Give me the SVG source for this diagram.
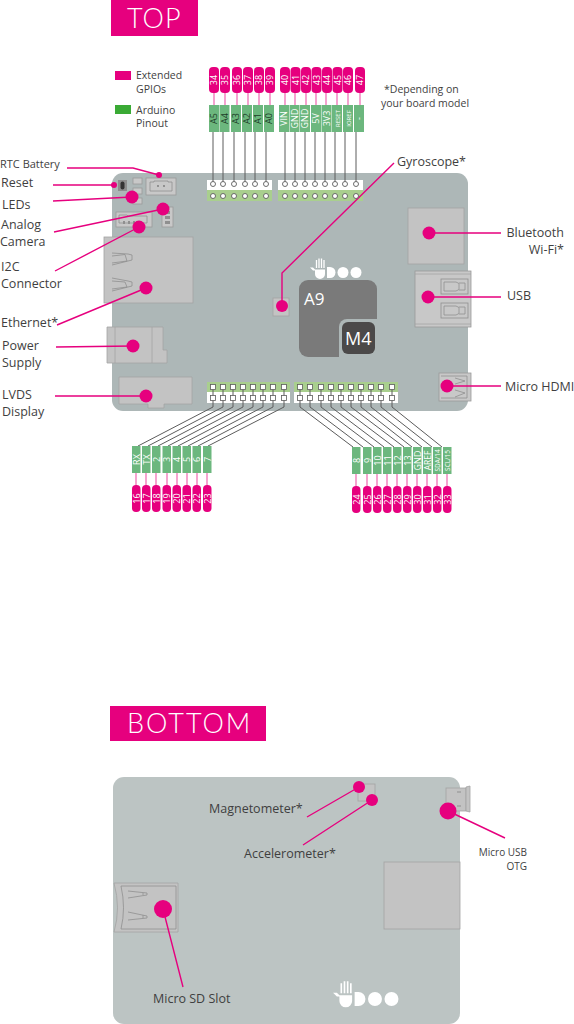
<svg xmlns="http://www.w3.org/2000/svg" width="574" height="1024" viewBox="0 0 574 1024">
<style>
text{font-family:"Open Sans","Noto Sans","Liberation Sans",sans-serif;fill:#3f3f3f}
.l{font-size:12.5px}
.s{font-size:10.5px}
.e{text-anchor:end}
.title{font-family:Lato,"Open Sans",sans-serif;font-weight:300;font-size:27px;fill:#fff}
.pin{font-size:9px;fill:#fff;text-anchor:middle}
.pd{font-size:9px;fill:#1d3d28;text-anchor:middle}
.pink{fill:#e6007e}
.g{fill:#6cb77e}
.pill{fill:#e6007e}
.comp{fill:#c3c3c3;stroke:#a3a3a3;stroke-width:.8}
.comp2{fill:#c8c8c8;stroke:#9a9a9a;stroke-width:.8}
.ln{fill:none;stroke:#e6007e;stroke-width:1.4}
.pl{stroke:#ee66b0;stroke-width:1.2}
.gl{fill:none;stroke:#5c5c5c;stroke-width:1}
.sq{fill:#fff;stroke:#5c5c5c;stroke-width:.8}
.cir{fill:#fff;stroke:#5c5c5c;stroke-width:.9}
.ic{fill:none;stroke:#8f8f8f;stroke-width:.8}
</style>
<defs>
<g id="logo"><path d="M-22,-5h3l2,2h10v4.500a5,5 0 0 1-10,0v-3.500h-2z" fill="#fff"/><path d="M-15.500,-4.500v-8M-13,-4.500v-9.500M-10.500,-4.500v-9.500M-8,-4.500v-8" stroke="#fff" stroke-width="1.300" fill="none"/><path d="M-5,-5.500h3a5.500,5.500 0 0 1 0,11h-3z" fill="#fff"/><circle cx="11" cy="0" r="5.500" fill="#fff"/><circle cx="24" cy="0" r="5.500" fill="#fff"/></g>
</defs>

<g id="top-title"><rect x="111" y="0" width="87" height="36" class="pink"/><text x="127" y="28" class="title" letter-spacing="1">TOP</text></g>

<g id="legend">
<rect x="115" y="71" width="16" height="9" class="pink"/><rect x="115" y="105" width="16" height="9" fill="#3aaa35"/>
<text x="136" y="79" class="s">Extended</text><text x="136" y="93" class="s">GPIOs</text>
<text x="136" y="114" class="s">Arduino</text><text x="136" y="127" class="s">Pinout</text>
<text x="384" y="93" class="s">*Depending on</text><text x="381" y="107" class="s">your board model</text>
</g>

<g id="board-top">
<rect x="112" y="173" width="356" height="238" rx="11" fill="#adb7b7"/>
<rect x="207" y="180" width="65" height="10" fill="#fff"/><rect x="207" y="190" width="65" height="11" fill="#a9cf8e"/>
<rect x="278" y="180" width="85" height="10" fill="#fff"/><rect x="278" y="190" width="85" height="11" fill="#a9cf8e"/>
<rect x="207" y="382" width="83" height="10" fill="#a9cf8e"/><rect x="207" y="392" width="83" height="11" fill="#fff"/>
<rect x="294" y="382" width="104" height="10" fill="#a9cf8e"/><rect x="294" y="392" width="104" height="11" fill="#fff"/>
</g>

<g id="rtc-connector"><rect x="146" y="178" width="30" height="17" class="comp2"/><path d="M150,182h4v-1h14v1h4v9h-22z" class="ic"/><circle cx="158" cy="186" r=".9" fill="#777"/><circle cx="164" cy="186" r=".9" fill="#777"/></g>
<g id="reset-button"><rect x="118" y="180" width="9" height="11" fill="#8d8d8d"/><rect x="120.500" y="181.500" width="4" height="8" rx="2" fill="#333"/></g>
<g id="led-boxes"><rect x="133" y="178" width="9" height="6" class="comp2"/><rect x="133" y="188" width="9" height="6" class="comp2"/><rect x="133" y="198" width="9" height="6" class="comp2"/></g>
<g id="camera-connector"><rect x="116" y="212" width="36" height="15" class="comp2"/><path d="M119,215h8l1,1h19v7h-28z" class="ic"/><rect x="123" y="221" width="2" height="3" fill="#8f8f8f"/><rect x="128" y="221" width="2" height="3" fill="#8f8f8f"/><rect x="133" y="221" width="2" height="3" fill="#8f8f8f"/></g>
<g id="i2c-connector"><rect x="162" y="207" width="11" height="20" class="comp2"/><rect x="165" y="211" width="5" height="3" fill="#8f8f8f"/><rect x="165" y="216" width="5" height="3" fill="#8f8f8f"/><rect x="165" y="221" width="5" height="3" fill="#8f8f8f"/></g>
<g id="ethernet"><rect x="104" y="237" width="89" height="66" class="comp"/><path d="M112,253l16,1l4,1v5l-4,1l-16,4M112,256l13,-1.500l2,6.500l-15,2M112,278l16,3l4,1v4l-4,1l-16,4M112,281l13,1l2,5l-15,2" class="ic"/></g>
<g id="power-supply"><path d="M107,327h56v23h4v13h-60z" class="comp"/><path d="M115,327v36M152,327v36" stroke="#a3a3a3" stroke-width=".8"/></g>
<g id="lvds-display"><path d="M119,377h73v27h-28v4h-16v-4h-29z" class="comp"/></g>
<g id="bluetooth-wifi"><rect x="408" y="208" width="56" height="56" class="comp"/></g>
<g id="usb"><rect x="415" y="271" width="56" height="56" class="comp2"/><path d="M415,274h56M415,324h56" stroke="#a3a3a3" stroke-width=".8"/><rect x="441" y="279" width="27" height="15" class="ic"/><rect x="441" y="303" width="27" height="15" class="ic"/><path d="M444,282h12l3,1.500v6l-3,1.500h-12zM444,306h12l3,1.500v6l-3,1.500h-12zM459,283h6v7h-6M459,307h6v7h-6" class="ic"/></g>
<g id="micro-hdmi"><rect x="439" y="373" width="32" height="28" class="comp2"/><path d="M441,376h26v22h-26" class="ic"/><path d="M455,378l10,3l-10,3M455,390l10,3l-10,4" class="ic"/></g>
<g id="gyroscope-chip"><rect x="273" y="298" width="16" height="18" class="comp"/></g>
<g id="cpu">
<rect x="299" y="280" width="78" height="77" rx="9" fill="#7a7a7a"/>
<path d="M347,319h30v38h-38v-30a8,8 0 0 1 8,-8z" fill="#adb7b7"/>
<rect x="342" y="322" width="33" height="32" rx="6" fill="#4b4949"/>
<text x="304" y="305" font-size="17" style="fill:#fff">A9</text>
<text x="345" y="345" font-size="18" style="fill:#fff">M4</text>
</g>
<use id="logo-top" href="#logo" transform="translate(332,272.500)"/>

<g id="board-bottom"><rect x="113" y="777" width="347" height="247" rx="11" fill="#bcc4c3"/></g>
<g id="bottom-sensor"><rect x="358" y="784" width="17" height="17" class="comp"/></g>
<g id="micro-usb-otg"><rect x="446" y="788" width="20" height="23" class="comp"/><path d="M466,787l4,-1v26l-4,-1z" class="comp"/><path d="M457,792h4M457,806h4" stroke="#8f8f8f"/></g>
<g id="bottom-module"><rect x="384" y="862" width="76" height="67" class="comp"/></g>
<g id="micro-sd">
<path d="M114,883h64v49h-64q7,-24 0,-49z" class="comp"/>
<path d="M121,886h55v43h-55q5,-21 0,-43z" class="ic"/>
<path d="M128,891l19,2v2l-19,3M128,912l19,4v2l-19,2M143,893v2M143,915v3" class="ic"/>
</g>
<use id="logo-bottom" href="#logo" transform="translate(361,999) scale(1.270)"/>

<g id="connectors">
<path class="ln" d="M67,168H133L159,175M53,185H114M53,201L132,197M54,232L163,209M55,271L139,227M57,325L146,288M56,347L133,346M55,396H146M394,163L282,273V306M429,233H501M428,297H501M447,386H501M307,817L359,787M303,845L372,800M183,987L163,909M505,838L448,811"/>
<path class="gl" d="M213,132V184M223,132V184M234,132V184M245,132V184M255,132V184M266,132V184M285,132V184M295,132V184M305,132V184M315,132V184M325,132V184M335,132V184M345,132V184M356,132V184"/>
<path class="gl" d="M213,387V407L138,446M223,387V407L148,446M233,387V407L158,446M243,387V407L168,446M253,387V407L178,446M263,387V407L188,446M273,387V407L198,446M284,387V407L208,446"/>
<path class="gl" d="M300,387V407L353,447M310,387V407L363,447M321,387V407L374,447M331,387V407L384,447M341,387V407L394,447M351,387V407L404,447M361,387V407L412,447M371,387V407L422,447M381,387V407L432,447M392,387V407L442,447"/>
<path class="pl" d="M214,93V105M225,93V105M237,93V105M248,93V105M259,93V105M270,93V105M285,93V105M295,93V105M306,93V105M316,93V105M326,93V105M337,93V105M348,93V105M360,93V105M136,473V485M146,473V485M156,473V485M167,473V485M177,473V485M187,473V485M197,473V485M207,473V485M356,474V486M367,474V486M377,474V486M387,474V486M397,474V486M407,474V486M417,474V486M427,474V486M437,474V486M447,474V486"/>
</g>

<g id="pin-dots">
<g class="cir-row">
<circle class="cir" cx="213" cy="184" r="2.500"/><circle class="cir" cx="223" cy="184" r="2.500"/><circle class="cir" cx="234" cy="184" r="2.500"/><circle class="cir" cx="245" cy="184" r="2.500"/><circle class="cir" cx="255" cy="184" r="2.500"/><circle class="cir" cx="266" cy="184" r="2.500"/>
<circle class="cir" cx="285" cy="184" r="2.500"/><circle class="cir" cx="295" cy="184" r="2.500"/><circle class="cir" cx="305" cy="184" r="2.500"/><circle class="cir" cx="315" cy="184" r="2.500"/><circle class="cir" cx="325" cy="184" r="2.500"/><circle class="cir" cx="335" cy="184" r="2.500"/><circle class="cir" cx="345" cy="184" r="2.500"/><circle class="cir" cx="356" cy="184" r="2.500"/>
<circle class="cir" cx="213" cy="196" r="2.500"/><circle class="cir" cx="223" cy="196" r="2.500"/><circle class="cir" cx="234" cy="196" r="2.500"/><circle class="cir" cx="245" cy="196" r="2.500"/><circle class="cir" cx="255" cy="196" r="2.500"/><circle class="cir" cx="266" cy="196" r="2.500"/>
<circle class="cir" cx="285" cy="196" r="2.500"/><circle class="cir" cx="295" cy="196" r="2.500"/><circle class="cir" cx="305" cy="196" r="2.500"/><circle class="cir" cx="315" cy="196" r="2.500"/><circle class="cir" cx="325" cy="196" r="2.500"/><circle class="cir" cx="335" cy="196" r="2.500"/><circle class="cir" cx="345" cy="196" r="2.500"/><circle class="cir" cx="356" cy="196" r="2.500"/>
</g>
<g>
<rect class="sq" x="210.500" y="384.500" width="5" height="5"/><rect class="sq" x="220.500" y="384.500" width="5" height="5"/><rect class="sq" x="230.500" y="384.500" width="5" height="5"/><rect class="sq" x="240.500" y="384.500" width="5" height="5"/><rect class="sq" x="250.500" y="384.500" width="5" height="5"/><rect class="sq" x="260.500" y="384.500" width="5" height="5"/><rect class="sq" x="270.500" y="384.500" width="5" height="5"/><rect class="sq" x="281.500" y="384.500" width="5" height="5"/>
<rect class="sq" x="210.500" y="395.500" width="5" height="5"/><rect class="sq" x="220.500" y="395.500" width="5" height="5"/><rect class="sq" x="230.500" y="395.500" width="5" height="5"/><rect class="sq" x="240.500" y="395.500" width="5" height="5"/><rect class="sq" x="250.500" y="395.500" width="5" height="5"/><rect class="sq" x="260.500" y="395.500" width="5" height="5"/><rect class="sq" x="270.500" y="395.500" width="5" height="5"/><rect class="sq" x="281.500" y="395.500" width="5" height="5"/>
<rect class="sq" x="297.500" y="384.500" width="5" height="5"/><rect class="sq" x="307.500" y="384.500" width="5" height="5"/><rect class="sq" x="318.500" y="384.500" width="5" height="5"/><rect class="sq" x="328.500" y="384.500" width="5" height="5"/><rect class="sq" x="338.500" y="384.500" width="5" height="5"/><rect class="sq" x="348.500" y="384.500" width="5" height="5"/><rect class="sq" x="358.500" y="384.500" width="5" height="5"/><rect class="sq" x="368.500" y="384.500" width="5" height="5"/><rect class="sq" x="378.500" y="384.500" width="5" height="5"/><rect class="sq" x="389.500" y="384.500" width="5" height="5"/>
<rect class="sq" x="297.500" y="395.500" width="5" height="5"/><rect class="sq" x="307.500" y="395.500" width="5" height="5"/><rect class="sq" x="318.500" y="395.500" width="5" height="5"/><rect class="sq" x="328.500" y="395.500" width="5" height="5"/><rect class="sq" x="338.500" y="395.500" width="5" height="5"/><rect class="sq" x="348.500" y="395.500" width="5" height="5"/><rect class="sq" x="358.500" y="395.500" width="5" height="5"/><rect class="sq" x="368.500" y="395.500" width="5" height="5"/><rect class="sq" x="378.500" y="395.500" width="5" height="5"/><rect class="sq" x="389.500" y="395.500" width="5" height="5"/>
</g>
</g>

<g id="callout-dots" class="pink">
<circle cx="159" cy="175" r="3"/><circle cx="114" cy="185" r="3"/><circle cx="132" cy="197" r="6.500"/><circle cx="163" cy="209" r="6.500"/><circle cx="139" cy="227" r="6.500"/><circle cx="146" cy="288" r="6.500"/><circle cx="133" cy="346" r="6.500"/><circle cx="146" cy="396" r="6.500"/><circle cx="429" cy="233" r="6.500"/><circle cx="428" cy="297" r="6.500"/><circle cx="447" cy="386" r="6.500"/><circle cx="282" cy="306" r="6"/>
<circle cx="359" cy="787" r="6"/><circle cx="372" cy="800" r="6"/><circle cx="163" cy="909" r="9"/><circle cx="448" cy="811" r="8.500"/>
</g>

<g id="callout-labels">
<text x="0" y="168" font-size="11">RTC Battery</text>
<text x="1" y="187" class="l">Reset</text>
<text x="2" y="209" class="l">LEDs</text>
<text x="1" y="229" class="l">Analog</text><text x="0" y="246" class="l">Camera</text>
<text x="1" y="271" class="l">I2C</text><text x="1" y="288" class="l">Connector</text>
<text x="1" y="327" class="l">Ethernet*</text>
<text x="2" y="350" class="l">Power</text><text x="2" y="367" class="l">Supply</text>
<text x="2" y="399" class="l">LVDS</text><text x="2" y="416" class="l">Display</text>
<text x="397" y="166" class="l">Gyroscope*</text>
<text x="564" y="237" class="l e">Bluetooth</text><text x="564" y="254" class="l e">Wi-Fi*</text>
<text x="507" y="300" class="l">USB</text>
<text x="505" y="391" class="l">Micro HDMI</text>
<text x="209" y="813" class="l">Magnetometer*</text>
<text x="244" y="858" class="l">Accelerometer*</text>
<text x="153" y="1003" class="l">Micro SD Slot</text>
<text x="527" y="856" font-size="10" class="e">Micro USB</text>
<text x="527" y="870" font-size="10" class="e">OTG</text>
</g>

<g id="top-pins-pink">
<rect class="pill" x="209" y="67" width="10" height="26" rx="4"/><text class="pin" transform="translate(217,80) rotate(-90)">34</text>
<rect class="pill" x="220" y="67" width="10" height="26" rx="4"/><text class="pin" transform="translate(228,80) rotate(-90)">35</text>
<rect class="pill" x="232" y="67" width="10" height="26" rx="4"/><text class="pin" transform="translate(240,80) rotate(-90)">36</text>
<rect class="pill" x="243" y="67" width="10" height="26" rx="4"/><text class="pin" transform="translate(251,80) rotate(-90)">37</text>
<rect class="pill" x="254" y="67" width="10" height="26" rx="4"/><text class="pin" transform="translate(262,80) rotate(-90)">38</text>
<rect class="pill" x="265" y="67" width="10" height="26" rx="4"/><text class="pin" transform="translate(273,80) rotate(-90)">39</text>
<rect class="pill" x="280" y="67" width="10" height="26" rx="4"/><text class="pin" transform="translate(288,80) rotate(-90)">40</text>
<rect class="pill" x="290.500" y="67" width="10" height="26" rx="4"/><text class="pin" transform="translate(298.500,80) rotate(-90)">41</text>
<rect class="pill" x="301" y="67" width="10" height="26" rx="4"/><text class="pin" transform="translate(309,80) rotate(-90)">42</text>
<rect class="pill" x="311.500" y="67" width="10" height="26" rx="4"/><text class="pin" transform="translate(319.500,80) rotate(-90)">43</text>
<rect class="pill" x="322" y="67" width="10" height="26" rx="4"/><text class="pin" transform="translate(330,80) rotate(-90)">44</text>
<rect class="pill" x="332.500" y="67" width="10" height="26" rx="4"/><text class="pin" transform="translate(340.500,80) rotate(-90)">45</text>
<rect class="pill" x="343" y="67" width="10" height="26" rx="4"/><text class="pin" transform="translate(351,80) rotate(-90)">46</text>
<rect class="pill" x="355" y="67" width="10" height="26" rx="4"/><text class="pin" transform="translate(363,80) rotate(-90)">47</text>
</g>
<g id="top-pins-green">
<rect class="g" x="209" y="105" width="10" height="27"/><text class="pd" transform="translate(217,118.500) rotate(-90)">A5</text>
<rect class="g" x="219.500" y="105" width="10" height="27"/><text class="pd" transform="translate(227.500,118.500) rotate(-90)">A4</text>
<rect class="g" x="231" y="105" width="10" height="27"/><text class="pd" transform="translate(239,118.500) rotate(-90)">A3</text>
<rect class="g" x="242" y="105" width="10" height="27"/><text class="pd" transform="translate(250,118.500) rotate(-90)">A2</text>
<rect class="g" x="253" y="105" width="10" height="27"/><text class="pd" transform="translate(261,118.500) rotate(-90)">A1</text>
<rect class="g" x="264" y="105" width="10" height="27"/><text class="pd" transform="translate(272,118.500) rotate(-90)">A0</text>
<rect class="g" x="279" y="105" width="10" height="27"/><text class="pin" transform="translate(287,118.500) rotate(-90)">VIN</text>
<rect class="g" x="289.500" y="105" width="10" height="27"/><text class="pin" transform="translate(297.500,118.500) rotate(-90)">GND</text>
<rect class="g" x="300" y="105" width="10" height="27"/><text class="pin" transform="translate(308,118.500) rotate(-90)">GND</text>
<rect class="g" x="311" y="105" width="10" height="27"/><text class="pin" transform="translate(319,118.500) rotate(-90)">5V</text>
<rect class="g" x="321.500" y="105" width="10" height="27"/><text class="pin" transform="translate(329.500,118.500) rotate(-90)">3V3</text>
<rect class="g" x="332" y="105" width="10" height="27"/><text class="pin" style="font-size:6px" transform="translate(339.500,118.500) rotate(-90)">RESET</text>
<rect class="g" x="343" y="105" width="10" height="27"/><text class="pin" style="font-size:6px" transform="translate(350.500,118.500) rotate(-90)">IOREF</text>
<rect class="g" x="354" y="105" width="10" height="27"/><text class="pin" transform="translate(362,118.500) rotate(-90)">-</text>
</g>
<g id="bottom-left-pins">
<rect class="g" x="132" y="446" width="8.500" height="27"/><text class="pin" transform="translate(139.500,459.500) rotate(-90)">RX</text>
<rect class="g" x="142" y="446" width="8.500" height="27"/><text class="pin" transform="translate(149.500,459.500) rotate(-90)">TX</text>
<rect class="g" x="152" y="446" width="8.500" height="27"/><text class="pin" transform="translate(159.500,459.500) rotate(-90)">2</text>
<rect class="g" x="162.500" y="446" width="8.500" height="27"/><text class="pin" transform="translate(170,459.500) rotate(-90)">3</text>
<rect class="g" x="172.500" y="446" width="8.500" height="27"/><text class="pin" transform="translate(180,459.500) rotate(-90)">4</text>
<rect class="g" x="182.500" y="446" width="8.500" height="27"/><text class="pin" transform="translate(190,459.500) rotate(-90)">5</text>
<rect class="g" x="192.500" y="446" width="8.500" height="27"/><text class="pin" transform="translate(200,459.500) rotate(-90)">6</text>
<rect class="g" x="203" y="446" width="8.500" height="27"/><text class="pin" transform="translate(210.500,459.500) rotate(-90)">7</text>
<rect class="pill" x="132" y="485" width="8.500" height="27" rx="4"/><text class="pin" transform="translate(139.500,498.500) rotate(-90)">16</text>
<rect class="pill" x="142" y="485" width="8.500" height="27" rx="4"/><text class="pin" transform="translate(149.500,498.500) rotate(-90)">17</text>
<rect class="pill" x="152" y="485" width="8.500" height="27" rx="4"/><text class="pin" transform="translate(159.500,498.500) rotate(-90)">18</text>
<rect class="pill" x="162.500" y="485" width="8.500" height="27" rx="4"/><text class="pin" transform="translate(170,498.500) rotate(-90)">19</text>
<rect class="pill" x="172.500" y="485" width="8.500" height="27" rx="4"/><text class="pin" transform="translate(180,498.500) rotate(-90)">20</text>
<rect class="pill" x="182.500" y="485" width="8.500" height="27" rx="4"/><text class="pin" transform="translate(190,498.500) rotate(-90)">21</text>
<rect class="pill" x="192.500" y="485" width="8.500" height="27" rx="4"/><text class="pin" transform="translate(200,498.500) rotate(-90)">22</text>
<rect class="pill" x="203" y="485" width="8.500" height="27" rx="4"/><text class="pin" transform="translate(210.500,498.500) rotate(-90)">23</text>
</g>
<g id="bottom-right-pins">
<rect class="g" x="352" y="447" width="8.500" height="27"/><text class="pin" transform="translate(359.500,460.500) rotate(-90)">8</text>
<rect class="g" x="363" y="447" width="8.500" height="27"/><text class="pin" transform="translate(370.500,460.500) rotate(-90)">9</text>
<rect class="g" x="373" y="447" width="8.500" height="27"/><text class="pin" transform="translate(380.500,460.500) rotate(-90)">10</text>
<rect class="g" x="383" y="447" width="8.500" height="27"/><text class="pin" transform="translate(390.500,460.500) rotate(-90)">11</text>
<rect class="g" x="393" y="447" width="8.500" height="27"/><text class="pin" transform="translate(400.500,460.500) rotate(-90)">12</text>
<rect class="g" x="403" y="447" width="8.500" height="27"/><text class="pin" transform="translate(410.500,460.500) rotate(-90)">13</text>
<rect class="g" x="413" y="447" width="8.500" height="27"/><text class="pin" transform="translate(420.500,460.500) rotate(-90)">GND</text>
<rect class="g" x="423" y="447" width="8.500" height="27"/><text class="pin" style="font-size:8.500px" transform="translate(430.500,460.500) rotate(-90)">AREF</text>
<rect class="g" x="433" y="447" width="8.500" height="27"/><text class="pin" style="font-size:6.500px" transform="translate(439.700,460.500) rotate(-90)">SDA/14</text>
<rect class="g" x="443" y="447" width="8.500" height="27"/><text class="pin" style="font-size:6.500px" transform="translate(449.700,460.500) rotate(-90)">SCL/15</text>
<rect class="pill" x="352" y="486" width="8.500" height="27" rx="4"/><text class="pin" transform="translate(359.500,499.500) rotate(-90)">24</text>
<rect class="pill" x="363" y="486" width="8.500" height="27" rx="4"/><text class="pin" transform="translate(370.500,499.500) rotate(-90)">25</text>
<rect class="pill" x="373" y="486" width="8.500" height="27" rx="4"/><text class="pin" transform="translate(380.500,499.500) rotate(-90)">26</text>
<rect class="pill" x="383" y="486" width="8.500" height="27" rx="4"/><text class="pin" transform="translate(390.500,499.500) rotate(-90)">27</text>
<rect class="pill" x="393" y="486" width="8.500" height="27" rx="4"/><text class="pin" transform="translate(400.500,499.500) rotate(-90)">28</text>
<rect class="pill" x="403" y="486" width="8.500" height="27" rx="4"/><text class="pin" transform="translate(410.500,499.500) rotate(-90)">29</text>
<rect class="pill" x="413" y="486" width="8.500" height="27" rx="4"/><text class="pin" transform="translate(420.500,499.500) rotate(-90)">30</text>
<rect class="pill" x="423" y="486" width="8.500" height="27" rx="4"/><text class="pin" transform="translate(430.500,499.500) rotate(-90)">31</text>
<rect class="pill" x="433" y="486" width="8.500" height="27" rx="4"/><text class="pin" transform="translate(440.500,499.500) rotate(-90)">32</text>
<rect class="pill" x="443" y="486" width="8.500" height="27" rx="4"/><text class="pin" transform="translate(450.500,499.500) rotate(-90)">33</text>
</g>

<g id="bottom-title"><rect x="110" y="706" width="156" height="35" class="pink"/><text x="127" y="733" class="title" letter-spacing="2">BOTTOM</text></g>
</svg>
